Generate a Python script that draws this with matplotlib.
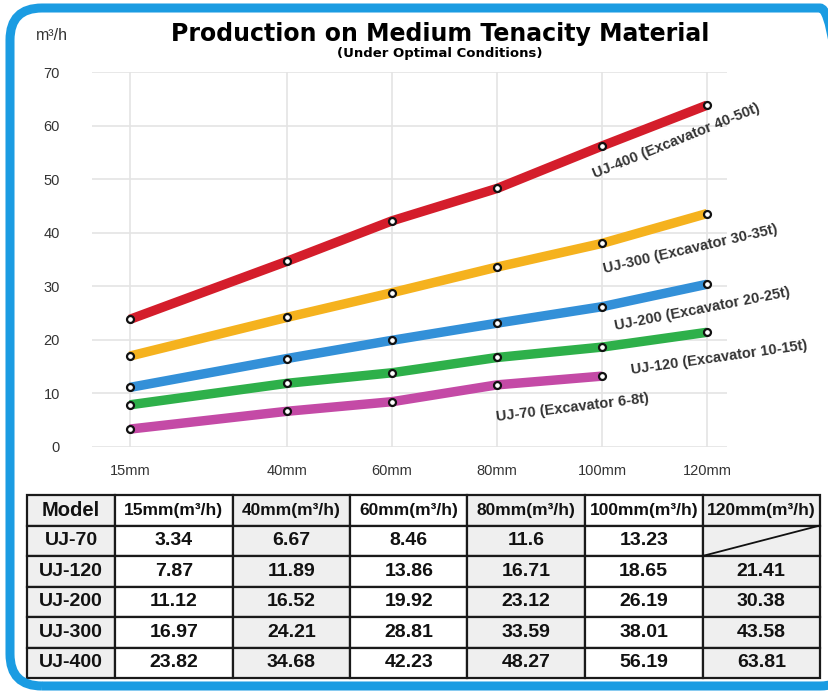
import matplotlib
matplotlib.use('Agg')
import matplotlib.pyplot as plt
from matplotlib.patches import FancyBboxPatch

plt.rcParams['font.family'] = ['Liberation Sans', 'DejaVu Sans']

sizes = ['15mm', '40mm', '60mm', '80mm', '100mm', '120mm']
models = ['UJ-70', 'UJ-120', 'UJ-200', 'UJ-300', 'UJ-400']
uj70 = [3.34, 6.67, 8.46, 11.6, 13.23]
uj120 = [7.87, 11.89, 13.86, 16.71, 18.65, 21.41]
uj200 = [11.12, 16.52, 19.92, 23.12, 26.19, 30.38]
uj300 = [16.97, 24.21, 28.81, 33.59, 38.01, 43.58]
uj400 = [23.82, 34.68, 42.23, 48.27, 56.19, 63.81]
line_labels = ['UJ-70 (Excavator 6-8t)', 'UJ-120 (Excavator 10-15t)',
               'UJ-200 (Excavator 20-25t)', 'UJ-300 (Excavator 30-35t)',
               'UJ-400 (Excavator 40-50t)']

# x positions on the chart (first gap is wider)
xpos = [0, 1.5, 2.5, 3.5, 4.5, 5.5]

series = [uj70, uj120, uj200, uj300, uj400]
colors = ['#c44aa6', '#2eb04a', '#3390d8', '#f5b21e', '#d41d2b']
# label placement (x, y, rotation)
label_pos = [(4.22, 7.4, 7), (5.62, 16.6, 8), (5.45, 25.8, 11),
             (5.34, 37.0, 13), (5.21, 57.2, 22)]

fig = plt.figure(figsize=(8.29, 6.91), dpi=100)

ax = fig.add_axes([92 / 829, 1 - 447 / 691, 635 / 829, 375 / 691])
for vals, c in zip(series, colors):
    ax.plot(xpos[:len(vals)], vals, color=c, lw=6.8, solid_capstyle='butt',
            marker='o', ms=5, mfc='white', mec='#111111', mew=1.6, zorder=3)
for (lx, ly, rot), txt in zip(label_pos, line_labels):
    ax.text(lx, ly, txt, rotation=rot, ha='center', va='center',
            rotation_mode='anchor', fontsize=10.5, fontweight='bold', color='#333333')

ax.set_xlim(-0.36, 5.69)
ax.set_ylim(0, 70)
ax.set_yticks(range(0, 80, 10))
ax.set_xticks(xpos)
ax.set_xticklabels(sizes)
ax.grid(True, color='#e4e4e4', lw=1.2)
ax.set_axisbelow(True)
for s in ax.spines.values():
    s.set_visible(False)
ax.tick_params(axis='y', length=0, pad=23, labelsize=10.5, labelcolor='#333333')
ax.tick_params(axis='x', length=0, pad=12, labelsize=10.5, labelcolor='#333333')

fig.text(52 / 829, 1 - 35 / 691, 'm³/h', ha='center', va='center',
         fontsize=11.5, color='#333333')
fig.text(440 / 829, 1 - 34 / 691, 'Production on Medium Tenacity Material',
         ha='center', va='center', fontsize=17, fontweight='bold', color='black',
         family='DejaVu Sans')
fig.text(440 / 829, 1 - 53 / 691, '(Under Optimal Conditions)',
         ha='center', va='center', fontsize=9.5, fontweight='bold', color='black',
         family='DejaVu Sans')

# table
tab = fig.add_axes([27 / 829, 13 / 691, 793 / 829, 183 / 691])
tab.axis('off')
header = ['Model'] + [s + '(m³/h)' for s in sizes]
rows = []
for m, vals in zip(models, series):
    rows.append([m] + [f'{v:g}' if v == 11.6 else f'{v:.2f}' for v in vals]
                + [''] * (6 - len(vals)))
colw = [88] + [117.5] * 6
colw = [w / sum(colw) for w in colw]
tbl = tab.table(cellText=rows, colLabels=header, colWidths=colw,
                bbox=[0, 0, 1, 1], cellLoc='center')
tbl.auto_set_font_size(False)
for (r, c), cell in tbl.get_celld().items():
    cell.set_linewidth(1.6)
    cell.set_edgecolor('#1a1a1a')
    cell.set_facecolor('#efefef' if c % 2 == 0 else 'white')
    t = cell.get_text()
    t.set_fontweight('bold')
    t.set_color('#111111')
    if r == 0:
        t.set_fontsize(14.5 if c == 0 else 12.5)
    else:
        t.set_fontsize(14)

# diagonal in empty cell
x0 = sum(colw[:6])
tab.plot([x0, 1], [1 - 2 / 6, 1 - 1 / 6], color='#111111', lw=1.3,
         transform=tab.transAxes, clip_on=False)

# blue rounded frame
frame = FancyBboxPatch((0.10, 0.05), 8.42, 6.78,
                       boxstyle='round,pad=0,rounding_size=0.32',
                       transform=fig.dpi_scale_trans, fill=False,
                       edgecolor='#1b9ce2', lw=6.5)
fig.patches.append(frame)

fig.savefig('out.png', dpi=100)
